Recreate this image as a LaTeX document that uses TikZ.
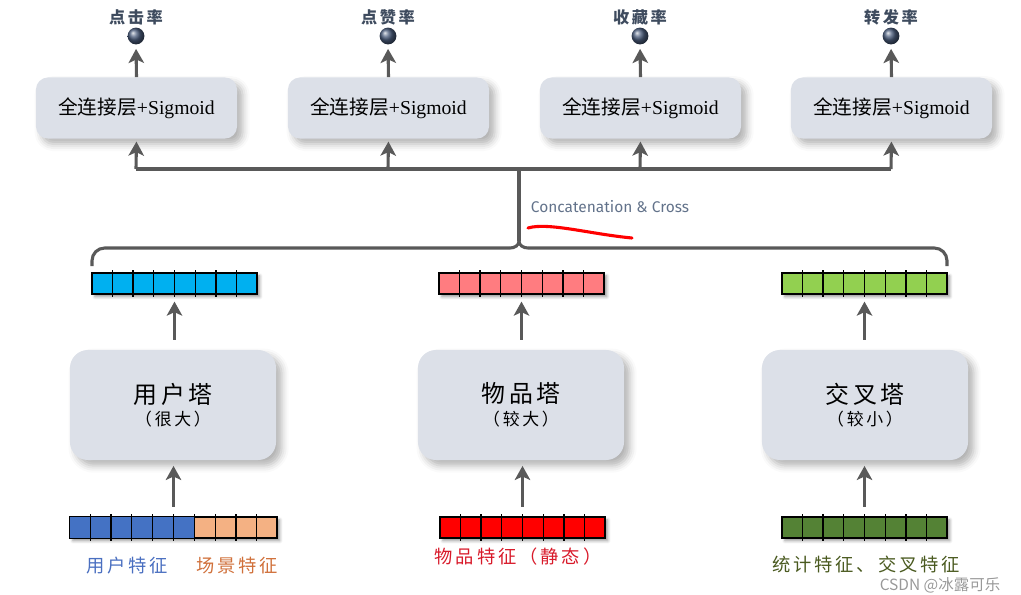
\documentclass[tikz,border=0pt]{standalone}
\usepackage{fontspec}
\setmainfont{Liberation Serif}
\newfontfamily\cjk{Noto Sans CJK SC}
\newfontfamily\cjks[LetterSpace=16]{Noto Sans CJK SC}
\newfontfamily\fira{Fira Sans}
\usetikzlibrary{arrows.meta,shadows.blur,calc}
\definecolor{boxfill}{HTML}{DCE0E8}
\definecolor{linegray}{HTML}{595959}
\definecolor{vblue}{HTML}{00B0F0}
\definecolor{vpink}{HTML}{FF7C80}
\definecolor{vgreen}{HTML}{92D050}
\definecolor{ublue}{HTML}{4472C4}
\definecolor{sorange}{HTML}{F4B183}
\definecolor{ired}{HTML}{FF0000}
\definecolor{cgreen}{HTML}{548235}
\definecolor{labelblue}{HTML}{3E4B5E}
\definecolor{concat}{HTML}{62728A}
\definecolor{balldark}{HTML}{4A5C7C}
\definecolor{ulabel}{HTML}{4A6FC0}
\definecolor{slabel}{HTML}{D0703A}
\definecolor{ilabel}{HTML}{D81A2A}
\definecolor{clabel}{HTML}{4A5A20}
\tikzset{
  softshadow/.style={blur shadow={shadow xshift=4pt, shadow yshift=-4pt, shadow blur radius=5pt, shadow opacity=30}},
  fcbox/.style={rounded corners=0.3cm, fill=boxfill, minimum width=5.025cm, minimum height=1.525cm, softshadow, font=\fontsize{14}{16}\selectfont},
  tower/.style={rounded corners=0.45cm, fill=boxfill, minimum width=5.15cm, minimum height=2.75cm, softshadow, align=center},
  vecbox/.style={draw=black, line width=0.8pt, minimum height=0.525cm, inner sep=0pt, blur shadow={shadow xshift=2pt, shadow yshift=-2pt, shadow blur radius=2pt, shadow opacity=40}},
  arr/.style={draw=linegray, line width=2.2pt, -{Stealth[length=10pt,width=11pt,inset=2.5pt]}},
  bus/.style={draw=linegray, line width=2.2pt},
  ball/.style={circle, ball color=balldark, minimum size=0.42cm, inner sep=0pt},
  toplabel/.style={text=labelblue, font=\cjks\bfseries\fontsize{11.5}{13}\selectfont},
  featlabel/.style={font=\cjks\fontsize{13}{15}\selectfont},
}
\newcommand{\cells}[3]{% node, number of inner lines, number of cells
  \foreach \i in {1,...,#2} {
    \draw[black, line width=0.8pt] ($(#1.south west)!\i/#3!(#1.south east)+(0,2)$) -- ($(#1.north west)!\i/#3!(#1.north east)+(0,-2)$);
  }
}
\newcommand{\towertext}[2]{{\cjks\fontsize{17}{22}\selectfont #1}\\[4pt]{\cjks\fontsize{12}{14}\selectfont （#2）}}
\begin{document}
\begin{tikzpicture}[x=0.025cm, y=-0.025cm]
\useasboundingbox (0,0) rectangle (1021,594);

% top output labels and balls
\foreach \n/\x/\t in {1/136/点击率, 2/388/点赞率, 3/640/收藏率, 4/891/转发率} {
  \node[toplabel] (lab\n) at (\x,17) {\t};
  \node[ball] (ball\n) at (\x,36) {};
  \node[fcbox] (fc\n) at (\x+0.5,108) {{\cjk 全连接层}+Sigmoid};
  \coordinate (bus\n) at (\x,169);
  \draw[arr, shorten >=3pt] (fc\n.north) -- (ball\n.south);
  \draw[arr, shorten >=2pt] (bus\n) -- (fc\n.south);
}
\draw[bus] (bus1) -- (bus4);
\coordinate (bc) at (519,169);
\coordinate (cusp) at (519,241);
\draw[bus] (bc) -- (cusp);
% brace
\coordinate (bl) at (92,266);
\coordinate (br) at (947,266);
\draw[bus, rounded corners=9] (bl) -- (92,248) -- (510,248);
\draw[bus] (510,248) to[out=0,in=-90] (cusp);
\draw[bus, rounded corners=9] (br) -- (947,248) -- (528,248);
\draw[bus] (528,248) to[out=180,in=-90] (cusp);

\node[font=\fira\fontsize{11}{13}\selectfont, text=concat, anchor=west] (cc) at (526,207) {Concatenation \& Cross};
\draw[red, line width=2.2pt, line cap=round] (528,228) .. controls (548,222) and (590,234) .. (632,238);

% embedding vectors
\node[vecbox, fill=vblue, minimum width=4.125cm] (uv) at (174.5,283.5) {};
\node[vecbox, fill=vpink, minimum width=4.125cm] (iv) at (521.5,283.5) {};
\node[vecbox, fill=vgreen, minimum width=4.125cm] (cv) at (864.5,283.5) {};
\cells{uv}{7}{8}
\cells{iv}{7}{8}
\cells{cv}{7}{8}

% towers
\node[tower] (ut) at (173,405) {\towertext{用户塔}{很大}};
\node[tower] (it) at (521,405) {\towertext{物品塔}{较大}};
\node[tower] (ct) at (865,405) {\towertext{交叉塔}{较小}};

\draw[arr, shorten <=7pt, shorten >=5pt] (ut.north -| uv.south) -- (uv.south);
\draw[arr, shorten <=7pt, shorten >=5pt] (it.north -| iv.south) -- (iv.south);
\draw[arr, shorten <=7pt, shorten >=5pt] (ct.north -| cv.south) -- (cv.south);

% input features
\node[vecbox, fill=sorange, minimum width=5.175cm] (uf) at (173.5,527.5) {};
\fill[ublue] ($(uf.north west)+(0.5,0.5)$) rectangle ($(uf.south west)!0.6!(uf.south east)+(0,-0.5)$);
\node[vecbox, fill=ired, minimum width=4.125cm] (if) at (522.5,527.5) {};
\node[vecbox, fill=cgreen, minimum width=4.125cm] (cf) at (864.5,527.5) {};
\cells{uf}{9}{10}
\cells{if}{7}{8}
\cells{cf}{7}{8}
\draw[black, line width=0.8pt] (uf.north west) rectangle (uf.south east);

\draw[arr, shorten <=7pt, shorten >=4pt] (uf.north) -- (uf.north |- ut.south);
\draw[arr, shorten <=7pt, shorten >=4pt] (if.north) -- (if.north |- it.south);
\draw[arr, shorten <=7pt, shorten >=4pt] (cf.north) -- (cf.north |- ct.south);

\node[featlabel, text=ulabel] (ul) at (127,566) {用户特征};
\node[featlabel, text=slabel] (sl) at (237,566) {场景特征};
\node[featlabel, text=ilabel] (il) at (518,557) {物品特征（静态）};
\node[featlabel, text=clabel] (cl) at (866,564) {统计特征、交叉特征};

\node[font=\cjk\fontsize{11}{13}\selectfont, text=black!40] (wm) at (940,585) {CSDN @冰露可乐};
\end{tikzpicture}
\end{document}
